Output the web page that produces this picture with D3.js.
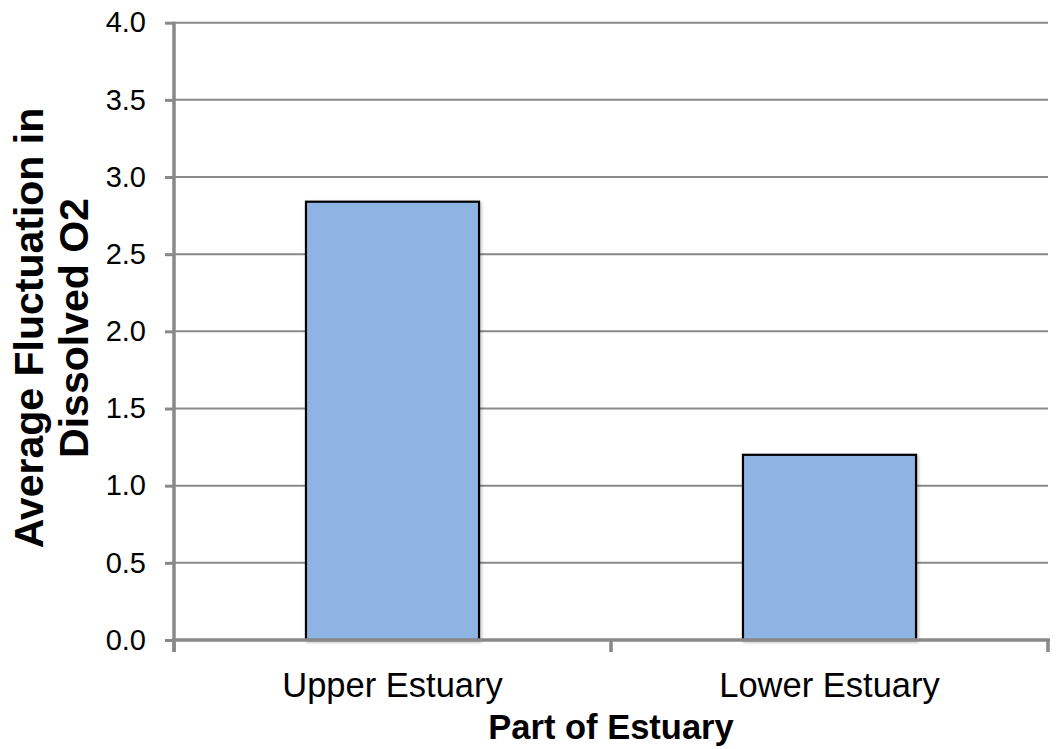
<!DOCTYPE html>
<html>
<head>
<meta charset="utf-8">
<script src="https://cdn.jsdelivr.net/npm/d3@7"></script>
<style>
  html, body { margin: 0; padding: 0; background: #fff; }
  svg { display: block; font-family: "Liberation Sans", Arial, sans-serif; }
</style>
</head>
<body>
<svg id="chart" width="1056" height="749"></svg>
<script>
// Average fluctuation in dissolved O2 by part of the estuary
const categories = ["Upper Estuary", "Lower Estuary"];
const values = [2.84, 1.2];
const yTicks = [0, 0.5, 1.0, 1.5, 2.0, 2.5, 3.0, 3.5, 4.0];
const xTitle = "Part of Estuary";
const yTitleLines = ["Average Fluctuation in", "Dissolved O2"];

const svg = d3.select("#chart");
const plotLeft = 174, plotRight = 1048, plotTop = 22.7, plotBottom = 640;

const y = d3.scaleLinear().domain([0, 4]).range([plotBottom, plotTop]);
const x = d3.scaleBand().domain(categories).range([plotLeft, plotRight])
  .paddingInner(0.604).paddingOuter(0.302);

const axisColor = "#898989";

// soft shadow under the bars
const defs = svg.append("defs");
const f = defs.append("filter").attr("id", "barShadow")
  .attr("x", "-10%").attr("y", "-10%").attr("width", "120%").attr("height", "120%");
f.append("feDropShadow").attr("dx", 1.5).attr("dy", 1.5).attr("stdDeviation", 1.5)
  .attr("flood-color", "#000").attr("flood-opacity", 0.25);

// horizontal gridlines
svg.append("g").selectAll("line")
  .data(yTicks.filter(d => d > 0))
  .join("line")
  .attr("x1", plotLeft).attr("x2", plotRight)
  .attr("y1", d => y(d)).attr("y2", d => y(d))
  .attr("stroke", axisColor).attr("stroke-width", 2);

// bars
svg.append("g").selectAll("rect")
  .data(categories)
  .join("rect")
  .attr("x", d => x(d))
  .attr("width", x.bandwidth())
  .attr("y", (d, i) => y(values[i]))
  .attr("height", (d, i) => y(0) - y(values[i]))
  .attr("fill", "#8EB4E3")
  .attr("stroke", "#000")
  .attr("stroke-width", 2.2)
  .attr("filter", "url(#barShadow)");

// y axis
const yAxis = d3.axisLeft(y).tickValues(yTicks).tickFormat(d3.format(".1f"))
  .tickSize(9).tickPadding(19);
const gy = svg.append("g").attr("transform", `translate(${plotLeft},0)`).call(yAxis);
gy.select(".domain").attr("stroke", axisColor).attr("stroke-width", 3.5)
  .attr("d", `M0,${plotTop - 1}V${plotBottom + 12}`);
gy.selectAll(".tick line").attr("stroke", axisColor).attr("stroke-width", 3);
gy.selectAll(".tick text").attr("font-size", 29).attr("fill", "#000")
  .attr("font-family", "'Liberation Sans', Arial, sans-serif");

// x axis with boundary ticks between categories
const gx = svg.append("g").attr("transform", `translate(0,${plotBottom})`);
gx.append("line").attr("x1", plotLeft - 2).attr("x2", plotRight + 2)
  .attr("stroke", axisColor).attr("stroke-width", 3.5);
const boundaries = [plotLeft, x(categories[1]) - x.step() * x.paddingInner() / 2, plotRight];
gx.selectAll("line.bt").data(boundaries).join("line").attr("class", "bt")
  .attr("x1", d => d).attr("x2", d => d).attr("y1", 0).attr("y2", 12)
  .attr("stroke", axisColor).attr("stroke-width", 3.5);
gx.selectAll("text").data(categories).join("text")
  .attr("x", d => x(d) + x.bandwidth() / 2)
  .attr("y", 57)
  .attr("text-anchor", "middle")
  .attr("font-size", 34.5)
  .attr("fill", "#000")
  .text(d => d);

// axis titles
svg.append("text")
  .attr("x", (plotLeft + plotRight) / 2).attr("y", 739)
  .attr("text-anchor", "middle").attr("font-size", 34.5).attr("font-weight", "bold")
  .text(xTitle);

const yt = svg.append("text")
  .attr("transform", "translate(0,328) rotate(-90)")
  .attr("text-anchor", "middle").attr("font-size", 41).attr("font-weight", "bold");
yt.selectAll("tspan").data(yTitleLines).join("tspan")
  .attr("x", 0).attr("y", (d, i) => 43 + i * 45)
  .text(d => d);
</script>
</body>
</html>
